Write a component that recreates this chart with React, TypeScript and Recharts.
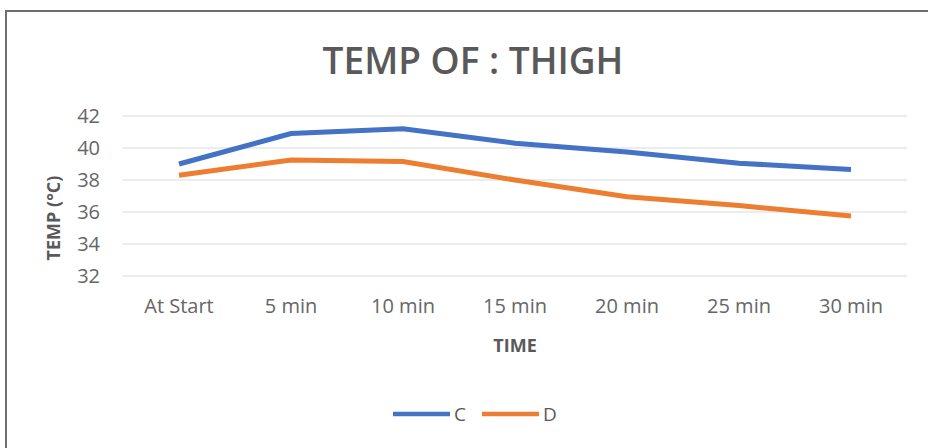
import React from "react";
import { LineChart, Line, XAxis, YAxis, CartesianGrid, Legend } from "recharts";

const categories = ["At Start", "5 min", "10 min", "15 min", "20 min", "25 min", "30 min"];
const seriesC = [39.0, 40.9, 41.2, 40.3, 39.75, 39.05, 38.65];
const seriesD = [38.3, 39.25, 39.15, 38.0, 36.95, 36.4, 35.75];
const yTicks = [32, 34, 36, 38, 40, 42];
const centerTicks = [0, 1, 2, 3, 4, 5, 6];
const edgeTicks = [-0.5, 0.5, 1.5, 2.5, 3.5, 4.5, 5.5, 6.5];

const data = categories.map((name, i) => ({ idx: i, name, C: seriesC[i], D: seriesD[i] }));

const FONT = "'Open Sans', sans-serif";
const TXT = "#595959";

const renderLegend = (props: any) => {
  const payload = props.payload || [];
  return (
    <div style={{ display: "flex", justifyContent: "center", alignItems: "center", fontFamily: FONT, fontSize: 19, color: TXT }}>
      {payload.map((p: any, i: number) => (
        <div key={i} style={{ display: "flex", alignItems: "center", marginRight: i === 0 ? 16 : 0 }}>
          <svg width={57} height={8} style={{ marginRight: 4 }}>
            <line x1={0} y1={4} x2={57} y2={4} stroke={p.color} strokeWidth={4.5} />
          </svg>
          <span>{p.value}</span>
        </div>
      ))}
    </div>
  );
};

export default function App() {
  return (
    <div style={{ position: "absolute", left: 0, top: 0, width: 928, height: 448, background: "#fff", overflow: "hidden" }}>
      <div style={{ position: "absolute", left: 5, top: 10, right: -4, bottom: -4, borderTop: "2px solid #6e6e6e", borderLeft: "2px solid #6e6e6e" }} />
      <div style={{ position: "absolute", left: 0, top: 0 }}>
        <LineChart width={928} height={448} data={data} margin={{ top: 116, right: 21, left: 0, bottom: 142 }}>
          <text x={473} y={59} textAnchor="middle" dominantBaseline="central" fontFamily={FONT} fontWeight={600} fontSize={37} fill={TXT}>
            TEMP OF : THIGH
          </text>
          <CartesianGrid horizontal vertical={false} stroke="#d9d9d9" />
          <XAxis
            xAxisId="edges"
            type="number"
            dataKey="idx"
            domain={[-0.5, 6.5]}
            ticks={edgeTicks}
            tick={false}
            tickLine={{ stroke: "#cfcfcf" }}
            tickSize={5}
            axisLine={{ stroke: "#d9d9d9" }}
            height={0}
          />
          <XAxis
            xAxisId="main"
            type="number"
            dataKey="idx"
            domain={[-0.5, 6.5]}
            ticks={centerTicks}
            tickFormatter={(v: number) => categories[v]}
            axisLine={false}
            tickLine={false}
            tickSize={0}
            tickMargin={23}
            height={30}
            tick={{ fontFamily: FONT, fontSize: 20, fill: "#666666" }}
            label={{
              content: (p: any) => (
                <text x={p.viewBox.x + p.viewBox.width / 2} y={345} textAnchor="middle" dominantBaseline="central" fontFamily={FONT} fontWeight={700} fontSize={18} fill={TXT}>
                  TIME
                </text>
              ),
            }}
          />
          <YAxis
            domain={[32, 42]}
            ticks={yTicks}
            axisLine={false}
            tickLine={false}
            tickSize={0}
            tickMargin={23}
            width={123}
            tick={{ fontFamily: FONT, fontSize: 20, fill: "#666666" }}
            label={{
              content: (p: any) => (
                <text
                  x={53}
                  y={218}
                  transform={`rotate(-90 53 218)`}
                  textAnchor="middle"
                  dominantBaseline="central"
                  fontFamily={FONT}
                  fontWeight={700}
                  fontSize={18}
                  fill={TXT}
                >
                  TEMP (°C)
                </text>
              ),
            }}
          />
          <Line xAxisId="main" type="linear" dataKey="C" name="C" stroke="#4472C4" strokeWidth={5} dot={false} isAnimationActive={false} />
          <Line xAxisId="main" type="linear" dataKey="D" name="D" stroke="#ED7D31" strokeWidth={5} dot={false} isAnimationActive={false} />
          <Legend
            layout="horizontal"
            verticalAlign="middle"
            align="center"
            content={renderLegend}
            wrapperStyle={{ position: "absolute", top: 401, left: 0, width: 950, height: 26 }}
          />
        </LineChart>
      </div>
    </div>
  );
}
